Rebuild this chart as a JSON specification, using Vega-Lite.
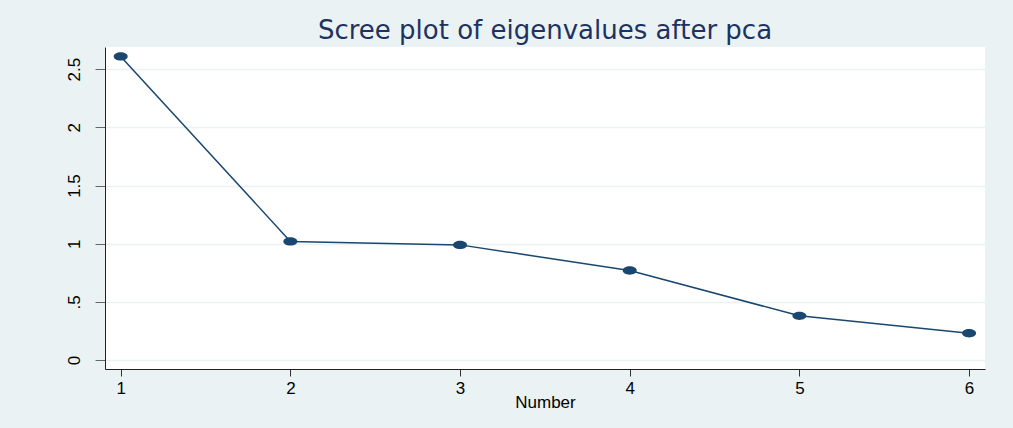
{
  "$schema": "https://vega.github.io/schema/vega-lite/v6.json",
  "autosize": "none",
  "width": 880,
  "height": 322,
  "padding": {"left": 105, "top": 47, "right": 28, "bottom": 59},
  "background": "#EAF2F3",
  "title": {
    "text": "Scree plot of eigenvalues after pca",
    "font": "DejaVu Sans",
    "fontSize": 26,
    "fontWeight": "normal",
    "color": "#1E3262",
    "anchor": "middle",
    "offset": 3
  },
  "config": {
    "view": {"fill": "white", "stroke": null},
    "axis": {"labelFont": "Liberation Sans", "titleFont": "Liberation Sans", "labelColor": "#000", "titleColor": "#000"}
  },
  "data": {
    "values": [
      {"Number": 1, "Eigenvalue": 2.61},
      {"Number": 2, "Eigenvalue": 1.02},
      {"Number": 3, "Eigenvalue": 0.99},
      {"Number": 4, "Eigenvalue": 0.77},
      {"Number": 5, "Eigenvalue": 0.38},
      {"Number": 6, "Eigenvalue": 0.23}
    ]
  },
  "encoding": {
    "x": {
      "field": "Number",
      "type": "quantitative",
      "scale": {"domain": [0.9075, 6.094], "nice": false, "zero": false},
      "axis": {
        "values": [1, 2, 3, 4, 5, 6],
        "grid": false,
        "title": "Number",
        "titleFontSize": 17,
        "titleFontWeight": "normal",
        "titlePadding": -2,
        "labelFontSize": 17,
        "labelPadding": 4,
        "tickSize": 7,
        "tickColor": "#333",
        "domainColor": "#222",
        "labelFlush": false
      }
    },
    "y": {
      "field": "Eigenvalue",
      "type": "quantitative",
      "scale": {"domain": [-0.077, 2.691], "nice": false, "zero": false},
      "axis": {
        "values": [0, 0.5, 1, 1.5, 2, 2.5],
        "labelExpr": "datum.value == 0.5 ? '.5' : '' + datum.value",
        "grid": true,
        "gridColor": "#EAF2F3",
        "gridWidth": 1.5,
        "title": null,
        "labelAngle": -90,
        "labelAlign": "center",
        "labelBaseline": "bottom",
        "labelFontSize": 17,
        "labelPadding": 12,
        "tickSize": 10,
        "tickColor": "#666",
        "domainColor": "#222",
        "labelFlush": false
      }
    }
  },
  "layer": [
    {"mark": {"type": "line", "color": "#1A476F", "strokeWidth": 1.5}},
    {"mark": {"type": "point", "filled": true, "opacity": 1, "color": "#1A476F", "size": 196, "shape": "M-1,0A1,0.6 0 1,0 1,0A1,0.6 0 1,0 -1,0Z"}}
  ]
}
